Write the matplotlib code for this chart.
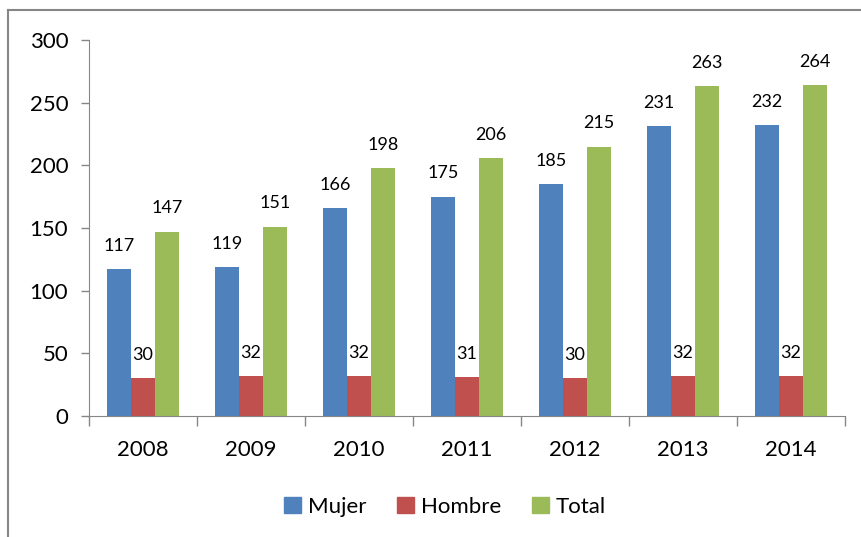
import matplotlib.pyplot as plt
import numpy as np
from matplotlib.lines import Line2D

years = ['2008', '2009', '2010', '2011', '2012', '2013', '2014']
mujer = [117, 119, 166, 175, 185, 231, 232]
hombre = [30, 32, 32, 31, 30, 32, 32]
total = [147, 151, 198, 206, 215, 263, 264]

series_names = ['Mujer', 'Hombre', 'Total']
colors = ['#4F81BD', '#C0504D', '#9BBB59']

plt.rcParams['font.family'] = ['Lato', 'DejaVu Sans']

fig = plt.figure(figsize=(8.61, 5.37), dpi=100)
ax = fig.add_axes([89 / 861, 1 - 416 / 537, (845 - 89) / 861, (416 - 40) / 537])

x = np.arange(len(years))
w = 0.222
for i, (vals, name) in enumerate(zip([mujer, hombre, total], series_names)):
    pos = x + (i - 1) * w
    ax.bar(pos, vals, width=w, color=colors[i], label=name, zorder=2)
    for p, v in zip(pos, vals):
        ax.annotate(str(v), (p, v), xytext=(0, 11), textcoords='offset points',
                    ha='center', va='bottom', fontsize=13)

ax.set_xlim(-0.5, len(years) - 0.5)
ax.set_ylim(0, 300)
ax.set_yticks(range(0, 301, 50))
ax.tick_params(axis='y', labelsize=16, length=6, width=1, color='#868686', pad=9)

# category ticks sit on the boundaries, labels at the centres
ax.set_xticks(np.arange(-0.5, len(years) + 0.5, 1))
ax.set_xticklabels([])
ax.set_xticks(x, minor=True)
ax.set_xticklabels(years, minor=True, fontsize=16)
ax.tick_params(axis='x', which='major', length=7, width=1, color='#868686')
ax.tick_params(axis='x', which='minor', length=0, pad=17)

for s in ['top', 'right']:
    ax.spines[s].set_visible(False)
for s in ['left', 'bottom']:
    ax.spines[s].set_color('#868686')

handles = [plt.Rectangle((0, 0), 1, 1, color=c) for c in colors]
fig.legend(handles, series_names, loc='center', bbox_to_anchor=(445 / 861, 1 - 507 / 537),
           ncol=3, frameon=False, fontsize=16, handlelength=0.75, handleheight=0.75,
           handletextpad=0.3, columnspacing=1.4)

# chart border (only top and left edges are in view)
fig.add_artist(Line2D([8 / 861, 1], [1 - 10 / 537, 1 - 10 / 537], color='#868686', lw=1.5))
fig.add_artist(Line2D([8 / 861, 8 / 861], [0, 1 - 10 / 537], color='#868686', lw=1.5))

fig.savefig('out.png', dpi=100)
